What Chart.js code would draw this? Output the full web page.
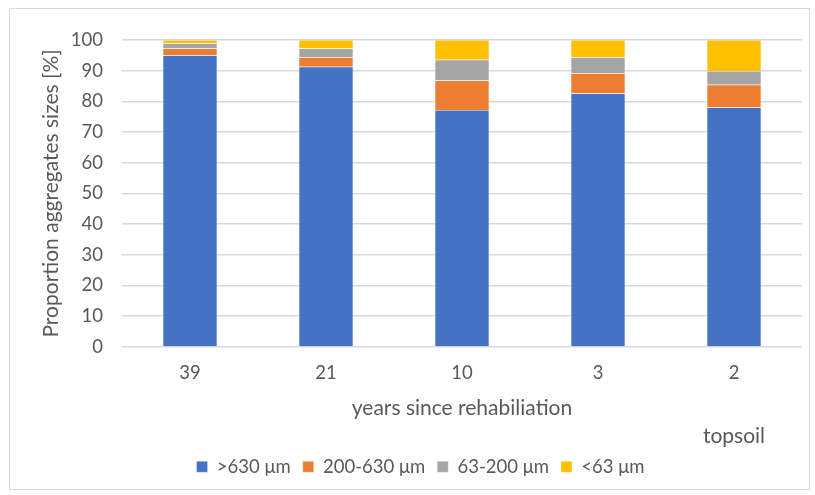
<!DOCTYPE html>
<html>
<head>
<meta charset="utf-8">
<script src="https://cdn.jsdelivr.net/npm/chart.js@4.4.0/dist/chart.umd.min.js"></script>
<style>
  html, body { margin: 0; padding: 0; background: #fff; }
  #frame {
    position: absolute; left: 9px; top: 8px; width: 801px; height: 482px;
    border: 1px solid #d9d9d9; box-sizing: border-box;
  }
  #wrap { position: absolute; left: 0; top: 0; width: 815px; height: 495px; }
</style>
</head>
<body>
<div id="frame"></div>
<div id="wrap"><canvas id="chart" width="815" height="495"></canvas></div>
<script>
const years = ['39', '21', '10', '3', '2'];
const over630 = [95.0, 91.3, 77.2, 82.6, 78.0];
const from200to630 = [2.2, 3.1, 9.6, 6.6, 7.4];
const from63to200 = [1.7, 2.8, 6.8, 5.2, 4.5];
const under63 = [1.1, 2.8, 6.4, 5.6, 10.1];
const yTicks = [0, 10, 20, 30, 40, 50, 60, 70, 80, 90, 100];

const textColor = '#595959';
const fontFamily = "Lato, 'Open Sans', sans-serif";
const tickSize = 18.5;
const titleSize = 21;

// extra label under the last category
const topsoilLabel = {
    id: 'topsoilLabel',
    afterDraw(chart) {
        const ctx = chart.ctx;
        const x = chart.scales.x.getPixelForValue(4);
        ctx.save();
        ctx.fillStyle = textColor;
        ctx.font = titleSize + 'px ' + fontFamily;
        ctx.textAlign = 'center';
        ctx.textBaseline = 'middle';
        ctx.fillText('topsoil', x, 436);
        ctx.restore();
    }
};

new Chart(document.getElementById('chart'), {
    type: 'bar',
    data: {
        labels: years,
        datasets: [
            { label: '>630 \u03bcm', data: over630, backgroundColor: '#4472C4' },
            { label: '200-630 \u03bcm', data: from200to630, backgroundColor: '#ED7D31' },
            { label: '63-200 \u03bcm', data: from63to200, backgroundColor: '#A5A5A5' },
            { label: '<63 \u03bcm', data: under63, backgroundColor: '#FFC000' }
        ].map(d => Object.assign(d, {
            borderColor: 'rgba(255,255,255,0.6)',
            borderWidth: 0.5,
            barPercentage: 0.4,
            categoryPercentage: 1
        }))
    },
    options: {
        responsive: false,
        animation: false,
        layout: { padding: { left: 39, right: 13, top: 40, bottom: 9 } },
        plugins: {
            legend: {
                position: 'bottom',
                labels: {
                    color: textColor,
                    font: { family: fontFamily, size: tickSize },
                    boxWidth: 11,
                    boxHeight: 11,
                    padding: 12
                }
            },
            tooltip: { enabled: false }
        },
        scales: {
            x: {
                stacked: true,
                afterFit: axis => { axis.height = 98.6; },
                grid: { display: false, drawTicks: false },
                border: { display: false },
                ticks: { color: textColor, font: { family: fontFamily, size: tickSize }, padding: 15 },
                title: {
                    display: true,
                    text: 'years since rehabiliation',
                    color: textColor,
                    font: { family: fontFamily, size: titleSize },
                    padding: { top: 10, bottom: 25 }
                }
            },
            y: {
                stacked: true,
                min: 0,
                max: 100,
                afterBuildTicks: axis => { axis.ticks = yTicks.map(v => ({ value: v })); },
                afterFit: axis => { axis.width = 83; },
                grid: { color: '#d9d9d9', lineWidth: 1.5, drawTicks: false },
                border: { display: false },
                ticks: { color: textColor, font: { family: fontFamily, size: tickSize }, padding: 19 },
                title: {
                    display: true,
                    text: 'Proportion aggregates sizes [%]',
                    color: textColor,
                    font: { family: fontFamily, size: titleSize },
                    padding: { top: 0, bottom: 9 }
                }
            }
        }
    },
    plugins: [topsoilLabel]
});
</script>
</body>
</html>
